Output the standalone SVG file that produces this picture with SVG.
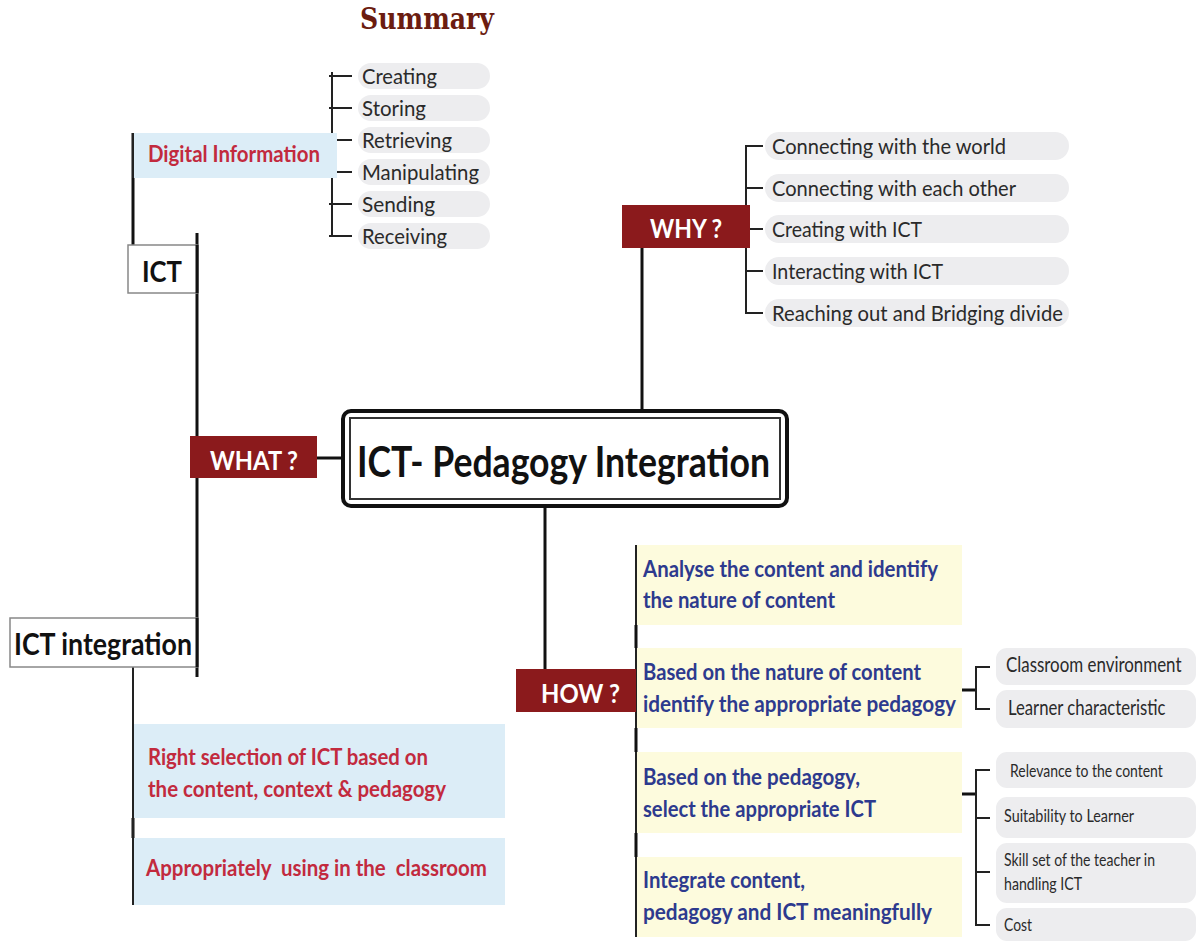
<svg xmlns="http://www.w3.org/2000/svg" width="1200" height="941" viewBox="0 0 1200 941">
<defs>
<style>
.ln{stroke:#111;stroke-width:3;fill:none}
.br{stroke:#222;stroke-width:2;fill:none}
.pill{fill:#ededef}
.blue{fill:#dcedf7}
.yel{fill:#fdfbdd}
.dred{fill:#8b1a1c}
.t{font-family:Lato,"Noto Sans","Liberation Sans",sans-serif}
.g{fill:#2a2a2a;font-size:22px}
.rd{fill:#c22a3e;font-size:22px;font-weight:bold}
.bl{fill:#2d3a8e;font-size:23px;font-weight:bold}
.wh{fill:#fff;font-size:26px;font-weight:bold}
.bk{fill:#111;font-weight:bold}
.sm{fill:#2a2a2a;font-size:18px}
</style>
</defs>
<rect width="1200" height="941" fill="#fff"/>
<text x="360" y="29" font-family="DejaVu Serif,Liberation Serif,serif" font-weight="bold" font-size="29" fill="#6b1c10" textLength="134" lengthAdjust="spacingAndGlyphs">Summary</text>

<g id="connectors">
<line class="ln" x1="133" y1="133" x2="133" y2="245"/>
<line class="ln" x1="197" y1="233" x2="197" y2="677"/>
<line class="ln" x1="317" y1="458" x2="343" y2="458"/>
<line class="ln" x1="642" y1="247" x2="642" y2="411"/>
<line class="ln" x1="545" y1="506" x2="545" y2="670"/>
<line class="br" x1="133" y1="667" x2="133" y2="905"/>
<line class="ln" x1="133" y1="818" x2="133" y2="838"/>
<path class="br" d="M332 72V236 M329 76H352 M329 108H352 M332 140H352 M332 172H352 M329 204H352 M329 236H352"/>
<path class="br" d="M763 146H746V313H763 M746 188H763 M750 229H763 M746 271H763"/>
<line class="br" x1="636" y1="545" x2="636" y2="937"/>
<path class="ln" d="M636 625V648 M636 728V752 M636 833V857"/>
<path class="ln" d="M962 690H976 M962 794H976"/>
<path class="br" d="M990 667H976V709H990"/>
<path class="br" d="M990 770H976V925H990 M976 818H990 M976 872H990"/>
</g>

<g id="digital-information">
<rect class="blue" x="133" y="133" width="204" height="45"/>
<line class="br" x1="133" y1="133" x2="133" y2="178"/>
<text class="t rd" x="148" y="162" textLength="172" lengthAdjust="spacingAndGlyphs">Digital Information</text>
</g>
<g id="di-items">
<rect class="pill" x="358" y="63" width="132" height="26" rx="13"/>
<rect class="pill" x="358" y="95" width="132" height="26" rx="13"/>
<rect class="pill" x="358" y="127" width="132" height="26" rx="13"/>
<rect class="pill" x="358" y="159" width="132" height="26" rx="13"/>
<rect class="pill" x="358" y="191" width="132" height="26" rx="13"/>
<rect class="pill" x="358" y="223" width="132" height="26" rx="13"/>
<text class="t g" x="362" y="84" textLength="75" lengthAdjust="spacingAndGlyphs">Creating</text>
<text class="t g" x="362" y="116" textLength="64" lengthAdjust="spacingAndGlyphs">Storing</text>
<text class="t g" x="362" y="148" textLength="90" lengthAdjust="spacingAndGlyphs">Retrieving</text>
<text class="t g" x="362" y="180" textLength="117" lengthAdjust="spacingAndGlyphs">Manipulating</text>
<text class="t g" x="362" y="212" textLength="73" lengthAdjust="spacingAndGlyphs">Sending</text>
<text class="t g" x="362" y="244" textLength="85" lengthAdjust="spacingAndGlyphs">Receiving</text>
</g>

<g id="ict">
<rect x="128" y="245" width="69" height="48" fill="#fff" stroke="#888" stroke-width="1.5"/>
<line class="ln" x1="197" y1="245" x2="197" y2="293"/>
<text class="t bk" x="162" y="282" font-size="28" text-anchor="middle" textLength="40" lengthAdjust="spacingAndGlyphs">ICT</text>
</g>

<g id="what">
<rect class="dred" x="190" y="436" width="127" height="42"/>
<text class="t wh" x="210" y="470" textLength="88" lengthAdjust="spacingAndGlyphs">WHAT ?</text>
</g>

<g id="main">
<rect x="343" y="411" width="444" height="95" rx="8" fill="#fff" stroke="#111" stroke-width="4"/>
<rect x="350" y="418" width="430" height="81" fill="none" stroke="#333" stroke-width="2"/>
<text class="t bk" x="357" y="477" font-size="42" textLength="413" lengthAdjust="spacingAndGlyphs">ICT- Pedagogy Integration</text>
</g>

<g id="why">
<rect class="dred" x="622" y="205" width="128" height="43"/>
<text class="t wh" x="650" y="238" textLength="72" lengthAdjust="spacingAndGlyphs">WHY ?</text>
</g>
<g id="why-items">
<rect class="pill" x="765" y="132" width="304" height="28" rx="14"/>
<rect class="pill" x="765" y="174" width="304" height="28" rx="14"/>
<rect class="pill" x="765" y="215" width="304" height="28" rx="14"/>
<rect class="pill" x="765" y="257" width="304" height="28" rx="14"/>
<rect class="pill" x="765" y="299" width="304" height="28" rx="14"/>
<text class="t g" x="772" y="154" textLength="234" lengthAdjust="spacingAndGlyphs">Connecting with the world</text>
<text class="t g" x="772" y="196" textLength="244" lengthAdjust="spacingAndGlyphs">Connecting with each other</text>
<text class="t g" x="772" y="237" textLength="150" lengthAdjust="spacingAndGlyphs">Creating with ICT</text>
<text class="t g" x="772" y="279" textLength="171" lengthAdjust="spacingAndGlyphs">Interacting with ICT</text>
<text class="t g" x="772" y="321" textLength="291" lengthAdjust="spacingAndGlyphs">Reaching out and Bridging divide</text>
</g>

<g id="ict-integration">
<rect x="10" y="618" width="187" height="49" fill="#fff" stroke="#888" stroke-width="1.5"/>
<line class="ln" x1="197" y1="618" x2="197" y2="667"/>
<text class="t bk" x="14" y="655" font-size="30" textLength="178" lengthAdjust="spacingAndGlyphs">ICT integration</text>
</g>
<g id="integration-items">
<rect class="blue" x="133" y="724" width="372" height="94"/>
<rect class="blue" x="133" y="838" width="372" height="67"/>
<line class="br" x1="133" y1="724" x2="133" y2="905"/>
<text class="t rd" x="148" y="765" textLength="280" lengthAdjust="spacingAndGlyphs">Right selection of ICT based on</text>
<text class="t rd" x="148" y="797" textLength="298" lengthAdjust="spacingAndGlyphs">the content, context &amp; pedagogy</text>
<text class="t rd" x="146" y="876" textLength="341" lengthAdjust="spacingAndGlyphs" xml:space="preserve">Appropriately  using in the  classroom</text>
</g>

<g id="how">
<rect class="dred" x="516" y="669" width="120" height="43"/>
<text class="t wh" x="541" y="703" textLength="79" lengthAdjust="spacingAndGlyphs">HOW ?</text>
</g>
<g id="how-steps">
<rect class="yel" x="637" y="545" width="325" height="80"/>
<rect class="yel" x="637" y="648" width="325" height="80"/>
<rect class="yel" x="637" y="752" width="325" height="81"/>
<rect class="yel" x="637" y="857" width="325" height="80"/>
<text class="t bl" x="643" y="577" textLength="295" lengthAdjust="spacingAndGlyphs">Analyse the content and identify</text>
<text class="t bl" x="643" y="608" textLength="192" lengthAdjust="spacingAndGlyphs">the nature of content</text>
<text class="t bl" x="643" y="680" textLength="278" lengthAdjust="spacingAndGlyphs">Based on the nature of content</text>
<text class="t bl" x="643" y="712" textLength="313" lengthAdjust="spacingAndGlyphs">identify the appropriate pedagogy</text>
<text class="t bl" x="643" y="785" textLength="217" lengthAdjust="spacingAndGlyphs">Based on the pedagogy,</text>
<text class="t bl" x="643" y="817" textLength="233" lengthAdjust="spacingAndGlyphs">select the appropriate ICT</text>
<text class="t bl" x="643" y="888" textLength="162" lengthAdjust="spacingAndGlyphs">Integrate content,</text>
<text class="t bl" x="643" y="920" textLength="289" lengthAdjust="spacingAndGlyphs">pedagogy and ICT meaningfully</text>
</g>

<g id="pedagogy-factors">
<rect class="pill" x="996" y="648" width="200" height="37" rx="11"/>
<rect class="pill" x="996" y="690" width="200" height="38" rx="11"/>
<text class="t g" transform="translate(1006 672) scale(0.78 1)" font-size="20" textLength="225" lengthAdjust="spacingAndGlyphs">Classroom environment</text>
<text class="t g" transform="translate(1008 715) scale(0.78 1)" font-size="20" textLength="202" lengthAdjust="spacingAndGlyphs">Learner characteristic</text>
</g>
<g id="ict-factors">
<rect class="pill" x="996" y="752" width="200" height="36" rx="11"/>
<rect class="pill" x="996" y="797" width="200" height="41" rx="11"/>
<rect class="pill" x="996" y="843" width="200" height="60" rx="11"/>
<rect class="pill" x="996" y="908" width="200" height="33" rx="11"/>
<text class="t sm" transform="translate(1010 777) scale(0.8 1)" textLength="191" lengthAdjust="spacingAndGlyphs">Relevance to the content</text>
<text class="t sm" x="1004" y="822" textLength="130" lengthAdjust="spacingAndGlyphs">Suitability to Learner</text>
<text class="t sm" x="1004" y="866" textLength="151" lengthAdjust="spacingAndGlyphs">Skill set of the teacher in</text>
<text class="t sm" x="1004" y="890" textLength="78" lengthAdjust="spacingAndGlyphs">handling ICT</text>
<text class="t sm" x="1004" y="931" textLength="28" lengthAdjust="spacingAndGlyphs">Cost</text>
</g>
</svg>
